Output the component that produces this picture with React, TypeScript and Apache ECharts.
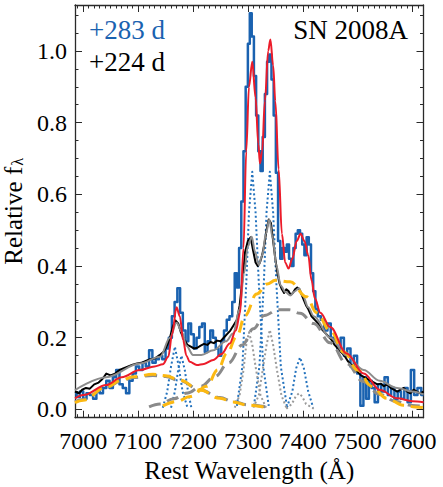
import React, { useEffect, useRef } from 'react';
import * as echarts from 'echarts';

const X_MIN = 6985;
const X_MAX = 7620;
const Y_MIN = -0.023;
const Y_MAX = 1.128;

const xMajorTicks = [7000, 7100, 7200, 7300, 7400, 7500, 7600];
const yMajorTicks = [0, 0.2, 0.4, 0.6, 0.8, 1.0];
const xMinorStep = 10;
const yMinorStep = 0.05;

const labelNew = '+283 d';
const labelOld = '+224 d';
const objectName = 'SN 2008A';

// +283 d spectrum (blue)
const spec283: number[][] = [
  [6985, 0.045], [6991, 0.035], [6997, 0.05], [7003, 0.03], [7009, 0.045], [7015, 0.04], [7021, 0.03],
  [7027, 0.05], [7033, 0.045], [7039, 0.06], [7045, 0.08], [7051, 0.06], [7057, 0.09], [7063, 0.11],
  [7069, 0.07], [7075, 0.06], [7081, 0.045], [7087, 0.08], [7093, 0.1], [7099, 0.12], [7105, 0.11],
  [7111, 0.13], [7117, 0.12], [7123, 0.165], [7129, 0.13], [7135, 0.14], [7141, 0.15], [7147, 0.14],
  [7153, 0.17], [7159, 0.2], [7164, 0.26], [7169, 0.3], [7174, 0.338], [7179, 0.27], [7184, 0.22],
  [7189, 0.19], [7194, 0.24], [7199, 0.21], [7204, 0.17], [7209, 0.2], [7214, 0.23], [7219, 0.24],
  [7224, 0.16], [7229, 0.19], [7234, 0.22], [7239, 0.2], [7244, 0.17], [7249, 0.15], [7254, 0.19],
  [7259, 0.22], [7264, 0.25], [7269, 0.26], [7274, 0.3], [7278, 0.38], [7282, 0.34], [7286, 0.45],
  [7290, 0.58], [7294, 0.72], [7298, 0.9], [7302, 1.02], [7305, 1.105], [7309, 1.04], [7313, 0.93],
  [7317, 0.82], [7321, 0.72], [7325, 0.665], [7329, 0.76], [7333, 0.88], [7337, 0.97], [7341, 0.99],
  [7345, 0.92], [7349, 0.82], [7353, 0.66], [7357, 0.47], [7361, 0.42], [7365, 0.45], [7369, 0.44],
  [7373, 0.46], [7377, 0.42], [7381, 0.4], [7385, 0.45], [7389, 0.49], [7393, 0.5], [7397, 0.49],
  [7401, 0.46], [7405, 0.43], [7409, 0.48], [7413, 0.46], [7417, 0.38], [7421, 0.33], [7425, 0.28],
  [7430, 0.26], [7436, 0.25], [7442, 0.22], [7448, 0.24], [7454, 0.2], [7460, 0.19], [7466, 0.17],
  [7472, 0.2], [7478, 0.15], [7484, 0.17], [7490, 0.12], [7496, 0.15], [7502, 0.1], [7508, 0.01],
  [7513, 0.09], [7518, 0.03], [7523, 0.08], [7528, 0.06], [7534, 0.02], [7540, 0.07], [7546, 0.05],
  [7552, 0.09], [7558, 0.04], [7564, 0.06], [7570, 0.03], [7576, 0.05], [7582, 0.03], [7588, 0.06],
  [7594, 0.02], [7600, 0.11], [7606, 0.04], [7612, 0.06], [7620, 0.04],
];

// +224 d spectrum (black)
const spec224: number[][] = [
  [6985, 0.05], [6992, 0.045], [6998, 0.055], [7005, 0.06], [7012, 0.058], [7020, 0.07], [7028, 0.075],
  [7035, 0.085], [7042, 0.1], [7050, 0.095], [7058, 0.1], [7066, 0.11], [7074, 0.115], [7082, 0.12],
  [7090, 0.125], [7098, 0.128], [7106, 0.13], [7114, 0.135], [7122, 0.14], [7130, 0.142], [7138, 0.15],
  [7146, 0.16], [7152, 0.175], [7158, 0.2], [7163, 0.23], [7168, 0.248], [7173, 0.24], [7178, 0.215],
  [7184, 0.195], [7190, 0.18], [7196, 0.175], [7202, 0.17], [7208, 0.172], [7214, 0.178], [7220, 0.183],
  [7226, 0.18], [7232, 0.188], [7238, 0.185], [7244, 0.192], [7250, 0.19], [7256, 0.2], [7262, 0.21],
  [7268, 0.22], [7274, 0.235], [7280, 0.25], [7285, 0.29], [7290, 0.36], [7295, 0.44], [7300, 0.47],
  [7305, 0.48], [7310, 0.44], [7314, 0.41], [7318, 0.4], [7322, 0.41], [7326, 0.43], [7330, 0.46],
  [7334, 0.5], [7338, 0.53], [7342, 0.52], [7346, 0.47], [7350, 0.42], [7354, 0.38], [7358, 0.35],
  [7362, 0.335], [7366, 0.325], [7370, 0.335], [7374, 0.33], [7378, 0.32], [7382, 0.325], [7386, 0.335],
  [7390, 0.34], [7394, 0.335], [7398, 0.32], [7402, 0.305], [7406, 0.29], [7410, 0.28], [7416, 0.26],
  [7422, 0.25], [7428, 0.24], [7434, 0.225], [7440, 0.215], [7446, 0.205], [7452, 0.195], [7458, 0.18],
  [7464, 0.17], [7470, 0.16], [7476, 0.15], [7482, 0.135], [7488, 0.125], [7494, 0.12], [7500, 0.105],
  [7506, 0.095], [7512, 0.09], [7518, 0.085], [7524, 0.08], [7530, 0.075], [7536, 0.07], [7542, 0.072],
  [7548, 0.065], [7554, 0.07], [7560, 0.06], [7566, 0.055], [7572, 0.05], [7578, 0.055], [7584, 0.06],
  [7590, 0.05], [7596, 0.045], [7602, 0.055], [7608, 0.05], [7614, 0.045], [7620, 0.05],
];

// total model fit to +283 d (red)
const fit283: number[][] = [
  [6985, 0.031], [7000, 0.04], [7042, 0.068], [7070, 0.09], [7103, 0.11], [7130, 0.12], [7145, 0.126],
  [7155, 0.147], [7162, 0.21], [7170, 0.285], [7176, 0.26], [7182, 0.193], [7188, 0.15], [7194, 0.133],
  [7207, 0.124], [7220, 0.127], [7237, 0.138], [7252, 0.155], [7267, 0.184], [7278, 0.22], [7286, 0.27],
  [7292, 0.45], [7297, 0.72], [7302, 0.9], [7308, 0.97], [7314, 0.87], [7319, 0.74], [7322, 0.686],
  [7326, 0.72], [7331, 0.86], [7337, 1.0], [7341, 1.032], [7346, 0.96], [7350, 0.86], [7356, 0.67],
  [7362, 0.49], [7368, 0.41], [7374, 0.393], [7381, 0.42], [7389, 0.47], [7396, 0.49], [7403, 0.47],
  [7410, 0.43], [7416, 0.36], [7422, 0.31], [7432, 0.27], [7450, 0.23], [7480, 0.156], [7511, 0.1],
  [7541, 0.054], [7572, 0.031], [7600, 0.023], [7620, 0.02],
];

// total model fit to +224 d (grey solid)
const fit224: number[][] = [
  [6985, 0.054], [7042, 0.09], [7103, 0.128], [7140, 0.147], [7158, 0.2], [7170, 0.242], [7180, 0.215],
  [7188, 0.178], [7200, 0.152], [7215, 0.152], [7237, 0.165], [7260, 0.19], [7273, 0.212], [7285, 0.28],
  [7293, 0.38], [7300, 0.455], [7307, 0.482], [7313, 0.44], [7320, 0.403], [7326, 0.43], [7333, 0.49],
  [7339, 0.53], [7345, 0.48], [7352, 0.4], [7360, 0.345], [7368, 0.328], [7377, 0.318], [7386, 0.33],
  [7393, 0.338], [7400, 0.318], [7410, 0.285], [7420, 0.26], [7450, 0.2], [7480, 0.15], [7511, 0.11],
  [7540, 0.08], [7572, 0.06], [7600, 0.05], [7620, 0.042],
];

// broad components, +283 d (yellow dashed)
const broadLeft283: number[][] = [
  [6985, 0.019], [7000, 0.026], [7042, 0.063], [7070, 0.082], [7091, 0.091], [7127, 0.098], [7150, 0.094],
  [7176, 0.082], [7213, 0.054], [7249, 0.031], [7273, 0.021], [7300, 0.012], [7334, 0.005],
];
const broadRight283: number[][] = [
  [7145, 0.01], [7170, 0.022], [7195, 0.036], [7225, 0.065], [7245, 0.11], [7262, 0.157], [7280, 0.205],
  [7295, 0.262], [7316, 0.322], [7335, 0.35], [7350, 0.36], [7377, 0.356], [7407, 0.314], [7425, 0.27],
  [7450, 0.22], [7475, 0.16], [7500, 0.11], [7525, 0.065], [7553, 0.031], [7583, 0.012], [7605, 0.007],
  [7620, 0.005],
];

// broad components, +224 d (grey dashed)
const broadLeft224: number[][] = [
  [6985, 0.022], [7000, 0.028], [7042, 0.062], [7070, 0.08], [7091, 0.089], [7127, 0.095], [7150, 0.092],
  [7176, 0.08], [7213, 0.055], [7249, 0.033], [7273, 0.022], [7300, 0.013], [7340, 0.005],
];
const broadRight224: number[][] = [
  [7120, 0.007], [7140, 0.015], [7165, 0.03], [7190, 0.046], [7215, 0.065], [7240, 0.092], [7265, 0.13],
  [7290, 0.18], [7310, 0.225], [7330, 0.262], [7355, 0.278], [7375, 0.278], [7395, 0.268], [7420, 0.24],
  [7450, 0.186], [7480, 0.128], [7510, 0.078], [7540, 0.042], [7570, 0.022], [7600, 0.011], [7620, 0.008],
];

// narrow components, +283 d (blue dotted)
const narrowA283: number[][] = [
  [7145, 0.005], [7153, 0.05], [7160, 0.12], [7167, 0.175], [7174, 0.12], [7181, 0.05], [7190, 0.005],
];
const narrowB283: number[][] = [
  [7160, 0.005], [7167, 0.05], [7173, 0.11], [7179, 0.15], [7185, 0.11], [7191, 0.05], [7197, 0.005],
];
const narrowC283: number[][] = [
  [7280, 0.01], [7290, 0.12], [7297, 0.35], [7302, 0.55], [7308, 0.663], [7314, 0.55], [7320, 0.35],
  [7328, 0.12], [7338, 0.01],
];
const narrowD283: number[][] = [
  [7311, 0.01], [7321, 0.12], [7329, 0.35], [7334, 0.55], [7340, 0.663], [7346, 0.55], [7352, 0.35],
  [7360, 0.12], [7371, 0.01],
];
const narrowE283: number[][] = [
  [7371, 0.005], [7381, 0.05], [7388, 0.115], [7395, 0.145], [7402, 0.115], [7410, 0.05], [7419, 0.005],
];

// narrow components, +224 d (grey dotted)
const narrowA224: number[][] = [
  [7276, 0.005], [7285, 0.04], [7292, 0.11], [7297, 0.18], [7302, 0.215], [7308, 0.18], [7315, 0.11],
  [7323, 0.04], [7333, 0.005],
];
const narrowB224: number[][] = [
  [7310, 0.005], [7320, 0.04], [7327, 0.11], [7334, 0.18], [7340, 0.222], [7346, 0.18], [7353, 0.11],
  [7361, 0.04], [7370, 0.005],
];
const narrowC224: number[][] = [
  [7370, 0.002], [7380, 0.015], [7387, 0.036], [7393, 0.045], [7399, 0.036], [7406, 0.015], [7420, 0.002],
];

const FONT = 'Liberation Serif';
const BLUE = '#1a62b0';
const BLUE_DOT = '#2372bd';
const RED = '#ec1c2a';
const YELLOW = '#fcb912';
const GREY = '#8a8a8a';
const GREY_DOT = '#9a9a9a';
const FRAME = '#2a2a2a';

function minorValues(min: number, max: number, step: number, majors: number[]): number[] {
  const out: number[] = [];
  const start = Math.ceil(min / step - 1e-9);
  const end = Math.floor(max / step + 1e-9);
  for (let i = start; i <= end; i++) {
    const v = Math.round(i * step * 1000) / 1000;
    if (majors.some((m) => Math.abs(m - v) < 1e-6)) continue;
    out.push(v);
  }
  return out;
}

function line(data: number[][], color: string, width: number, type: any, opts: any = {}) {
  return {
    type: 'line',
    data,
    xAxisIndex: 0,
    yAxisIndex: 0,
    showSymbol: false,
    symbol: 'none',
    silent: true,
    clip: true,
    lineStyle: { color, width, type, cap: 'butt', join: 'round' },
    itemStyle: { color },
    ...opts,
  };
}

export default function App() {
  const ref = useRef<HTMLDivElement>(null);
  useEffect(() => {
    if (!ref.current) return;
    const chart = echarts.init(ref.current, null, { renderer: 'svg' });
    const xMinor = minorValues(X_MIN, X_MAX, xMinorStep, xMajorTicks);
    const yMinor = minorValues(0, Y_MAX, yMinorStep, yMajorTicks);
    const gridBox = { left: 75, top: 5, right: 19.5, bottom: 69.3, containLabel: false, outerBoundsMode: 'none' };
    const frameLine = { show: true, onZero: false, lineStyle: { color: FRAME, width: 1.3 } };
    const noLine = { show: false, onZero: false };
    const tickStyle = { color: FRAME, width: 1 };
    const hiddenLabel = { show: false };
    const xBase = { type: 'value', min: X_MIN, max: X_MAX, splitLine: { show: false }, minorTick: { show: false } };
    const yBase = { type: 'value', min: Y_MIN, max: Y_MAX, splitLine: { show: false }, minorTick: { show: false } };

    const option: any = {
      animation: false,
      grid: [gridBox, gridBox],
      xAxis: [
        {
          ...xBase,
          gridIndex: 0,
          position: 'bottom',
          axisLine: frameLine,
          axisTick: { show: true, inside: true, length: 7, customValues: xMajorTicks, lineStyle: tickStyle },
          axisLabel: {
            show: true,
            customValues: xMajorTicks,
            fontFamily: FONT,
            fontSize: 24,
            color: '#000',
            margin: 11,
            formatter: (v: number) => String(Math.round(v)),
          },
          name: 'Rest Wavelength (Å)',
          nameLocation: 'middle',
          nameGap: 40,
          nameTextStyle: { fontFamily: FONT, fontSize: 25, color: '#000' },
        },
        {
          ...xBase,
          gridIndex: 0,
          position: 'top',
          axisLine: frameLine,
          axisTick: { show: true, inside: true, length: 7, customValues: xMajorTicks, lineStyle: tickStyle },
          axisLabel: hiddenLabel,
        },
        {
          ...xBase,
          gridIndex: 1,
          position: 'bottom',
          axisLine: noLine,
          axisTick: { show: true, inside: true, length: 3.5, customValues: xMinor, lineStyle: tickStyle },
          axisLabel: hiddenLabel,
        },
        {
          ...xBase,
          gridIndex: 1,
          position: 'top',
          axisLine: noLine,
          axisTick: { show: true, inside: true, length: 3.5, customValues: xMinor, lineStyle: tickStyle },
          axisLabel: hiddenLabel,
        },
      ],
      yAxis: [
        {
          ...yBase,
          gridIndex: 0,
          position: 'left',
          axisLine: frameLine,
          axisTick: { show: true, inside: true, length: 7, customValues: yMajorTicks, lineStyle: tickStyle },
          axisLabel: {
            show: true,
            customValues: yMajorTicks,
            fontFamily: FONT,
            fontSize: 24,
            color: '#000',
            margin: 8,
            formatter: (v: number) => v.toFixed(1),
          },
          name: '{m|Relative f}{sub|λ}',
          nameLocation: 'middle',
          nameGap: 47,
          nameTextStyle: {
            fontFamily: FONT,
            fontSize: 25,
            color: '#000',
            rich: {
              m: { fontFamily: FONT, fontSize: 25, color: '#000' },
              sub: { fontFamily: FONT, fontSize: 16, color: '#000', padding: [8, 0, 0, 1] },
            },
          },
        },
        {
          ...yBase,
          gridIndex: 0,
          position: 'right',
          axisLine: frameLine,
          axisTick: { show: true, inside: true, length: 7, customValues: yMajorTicks, lineStyle: tickStyle },
          axisLabel: hiddenLabel,
        },
        {
          ...yBase,
          gridIndex: 1,
          position: 'left',
          axisLine: noLine,
          axisTick: { show: true, inside: true, length: 3.5, customValues: yMinor, lineStyle: tickStyle },
          axisLabel: hiddenLabel,
        },
        {
          ...yBase,
          gridIndex: 1,
          position: 'right',
          axisLine: noLine,
          axisTick: { show: true, inside: true, length: 3.5, customValues: yMinor, lineStyle: tickStyle },
          axisLabel: hiddenLabel,
        },
      ],
      graphic: [
        {
          type: 'text',
          left: 89,
          top: 16,
          style: { text: labelNew, fontFamily: FONT, fontSize: 27, fill: BLUE },
        },
        {
          type: 'text',
          left: 89,
          top: 48,
          style: { text: labelOld, fontFamily: FONT, fontSize: 27, fill: '#000' },
        },
        {
          type: 'text',
          right: 35,
          top: 16,
          style: { text: objectName, fontFamily: FONT, fontSize: 27, fill: '#000' },
        },
      ],
      series: [
        line(narrowA283, BLUE_DOT, 2, [2, 2.5]),
        line(narrowB283, BLUE_DOT, 2, [2, 2.5]),
        line(narrowC283, BLUE_DOT, 2, [2, 2.5]),
        line(narrowD283, BLUE_DOT, 2, [2, 2.5]),
        line(narrowE283, BLUE_DOT, 2, [2, 2.5]),
        line(narrowA224, GREY_DOT, 2, [2, 2.5]),
        line(narrowB224, GREY_DOT, 2, [2, 2.5]),
        line(narrowC224, GREY_DOT, 2, [2, 2.5]),
        line(spec283, BLUE, 2.5, 'solid', { step: 'middle' }),
        line(spec224, '#000000', 2, 'solid'),
        line(fit224, '#8c8c8c', 2, 'solid', { smooth: 0.35, smoothMonotone: 'x' }),
        line(broadLeft224, GREY, 3, [12, 7], { smooth: 0.4, smoothMonotone: 'x' }),
        line(broadRight224, GREY, 3, [12, 7], { smooth: 0.4, smoothMonotone: 'x' }),
        line(broadLeft283, YELLOW, 3, [12, 7], { smooth: 0.4, smoothMonotone: 'x' }),
        line(broadRight283, YELLOW, 3, [12, 7], { smooth: 0.4, smoothMonotone: 'x' }),
        line(fit283, RED, 2, 'solid', { smooth: 0.35, smoothMonotone: 'x' }),
      ],
    };
    chart.setOption(option);
    return () => chart.dispose();
  }, []);
  return (
    <div
      ref={ref}
      style={{ position: 'fixed', left: 0, top: 0, width: 443, height: 487, background: '#fff' }}
    />
  );
}
